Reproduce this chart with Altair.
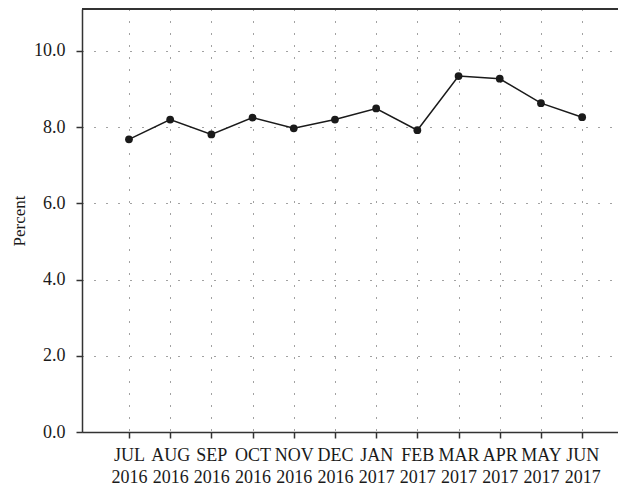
import altair as alt
import pandas as pd

months = ["JUL", "AUG", "SEP", "OCT", "NOV", "DEC", "JAN", "FEB", "MAR", "APR", "MAY", "JUN"]
years = ["2016", "2016", "2016", "2016", "2016", "2016", "2017", "2017", "2017", "2017", "2017", "2017"]
values = [7.68, 8.20, 7.81, 8.25, 7.97, 8.20, 8.49, 7.92, 9.34, 9.27, 8.63, 8.26]
y_ticks = [0, 2, 4, 6, 8, 10]

df = pd.DataFrame({"i": list(range(len(months))), "month": months, "year": years, "value": values})

label_js = "[" + ",".join(f"['{m}','{y}']" for m, y in zip(months, years)) + "][datum.value]"

W, H = 536, 423
FONT = "Liberation Serif"
INK = "#1a1a1a"

x_enc = alt.X(
    "i:Q",
    scale=alt.Scale(domain=[-1.14, 11.87], nice=False, zero=False),
    axis=alt.Axis(
        values=list(range(len(months))),
        labelExpr=label_js,
        title=None,
        grid=True,
        gridDash=[1, 11],
        gridColor="#444",
        gridWidth=1,
        tickSize=6,
        tickColor="#333",
        tickWidth=1.5,
        domainColor="#333",
        domainWidth=1.5,
        labelFont=FONT,
        labelFontSize=18,
        labelColor=INK,
        labelPadding=8,
        labelLineHeight=22,
        labelFlush=False,
        labelOverlap=False,
    ),
)

y_enc = alt.Y(
    "value:Q",
    scale=alt.Scale(domain=[0, 11.1], nice=False),
    axis=alt.Axis(
        values=y_ticks,
        format=".1f",
        title="Percent",
        titleFont=FONT,
        titleFontSize=17,
        titleFontWeight="normal",
        titleColor=INK,
        titleX=-58,
        titleY=H / 2,
        titleBaseline="alphabetic",
        titleAngle=270,
        grid=True,
        gridDash=[1, 11],
        gridColor="#444",
        gridWidth=1,
        tickSize=6,
        tickColor="#333",
        tickWidth=1.5,
        domainColor="#333",
        domainWidth=1.5,
        labelFont=FONT,
        labelFontSize=18,
        labelColor=INK,
        labelPadding=11,
    ),
)

base = alt.Chart(df)
line = base.mark_line(color=INK, strokeWidth=1.5).encode(x=x_enc, y=y_enc)
pts = base.mark_circle(color=INK, size=60, opacity=1).encode(x="i:Q", y="value:Q")
top = alt.Chart(df).mark_rule(color="#333", strokeWidth=1.5).encode(
    x=alt.value(0), x2=alt.value(W), y=alt.value(0)
)

chart = (
    alt.layer(line, pts, top)
    .properties(
        width=W,
        height=H,
        autosize=alt.AutoSizeParams(type="none"),
        padding={"left": 74, "top": 1, "right": 0, "bottom": 57},
    )
    .configure_view(stroke=None)
    .configure(background="white")
)

chart.save("out.html", embed_options={"renderer": "svg", "actions": False})
